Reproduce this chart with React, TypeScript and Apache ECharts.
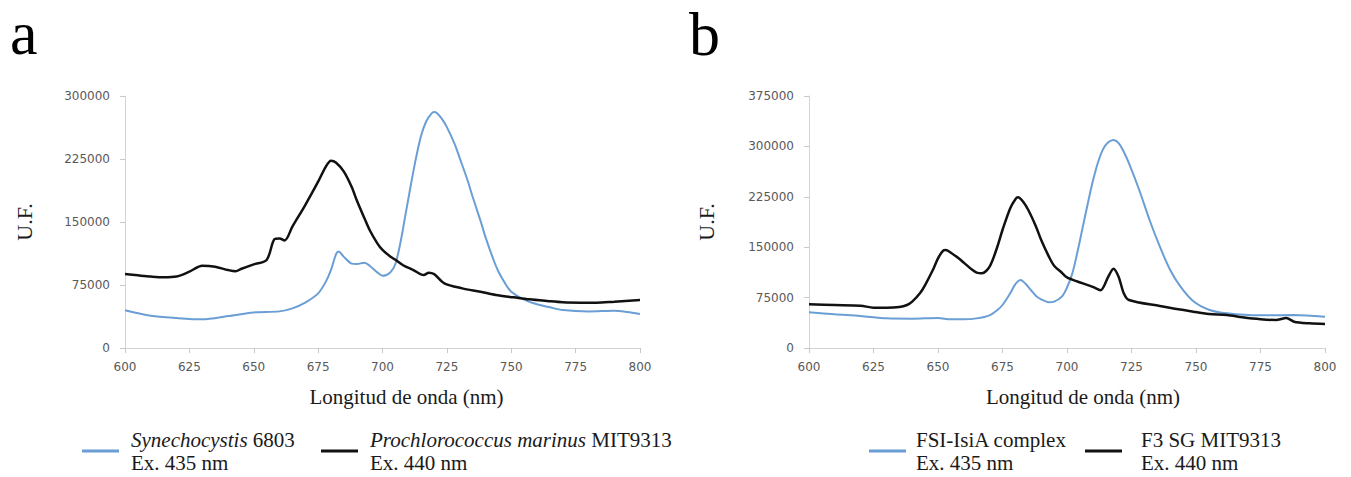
import React, { useEffect, useRef } from "react";
import * as echarts from "echarts";

// ---------- Data ----------
// Panel a — Synechocystis 6803 (Ex. 435 nm)
const synWl = [600, 610, 620, 630, 640, 650, 660, 665, 670, 675, 678, 680, 682, 683, 685, 688, 690, 693, 695, 698, 700, 703, 705, 707, 709, 711, 713, 715, 717, 719, 720, 721, 723, 725, 728, 730, 733, 735, 738, 740, 743, 745, 748, 750, 755, 760, 765, 770, 780, 790, 795, 800];
const synVal = [45000, 38500, 35700, 34100, 38000, 42400, 43600, 47200, 54000, 65000, 79000, 93000, 112000, 115000, 108500, 100500, 100000, 101500, 98000, 90000, 86000, 90000, 100000, 126000, 160000, 194000, 226000, 253000, 270000, 279000, 281000, 280000, 273000, 263000, 243000, 226000, 200000, 180000, 152000, 132000, 106000, 91000, 75000, 67000, 57500, 52000, 48400, 45200, 43600, 44400, 42900, 40500];

// Panel a — Prochlorococcus marinus MIT9313 (Ex. 440 nm)
const proWl = [600, 605, 610, 615, 620, 625, 630, 635, 640, 643, 645, 650, 655, 658, 660, 662, 665, 670, 675, 678, 680, 682, 685, 688, 690, 693, 695, 698, 700, 703, 705, 708, 712, 716, 718, 720, 724, 731, 738, 744, 751, 757, 764, 770, 777, 783, 790, 800];
const proVal = [88100, 86500, 85000, 84100, 85000, 90900, 98000, 96800, 92800, 91300, 94000, 99600, 104800, 129400, 130500, 128000, 144500, 170200, 198000, 216000, 223000, 220600, 210000, 192000, 176000, 154400, 140500, 124600, 116700, 109000, 105000, 98500, 92800, 86900, 89700, 88000, 77000, 71000, 67000, 63100, 60300, 57900, 55900, 54400, 54000, 54000, 55200, 57100];

// Panel b — FSI-IsiA complex (Ex. 435 nm)
const fsiWl = [600, 610, 620, 630, 640, 650, 655, 660, 665, 670, 673, 675, 678, 680, 682, 684, 686, 688, 690, 693, 695, 698, 700, 702, 704, 706, 708, 710, 712, 714, 716, 718, 720, 722, 724, 728, 732, 736, 740, 744, 749, 755, 762, 775, 788, 800];
const fsiVal = [53100, 50100, 47600, 44100, 43600, 44600, 42700, 42700, 44100, 48600, 56500, 64000, 81400, 95200, 101200, 95200, 86300, 77400, 72400, 68000, 68900, 76400, 90000, 110000, 142000, 178000, 214000, 248000, 276000, 296000, 306000, 309500, 305000, 292000, 275000, 235100, 190500, 150700, 116100, 91300, 69500, 57000, 51600, 48600, 49100, 46600];

// Panel b — F3 SG MIT9313 (Ex. 440 nm)
const f3Wl = [600, 610, 620, 625, 630, 635, 638, 640, 643, 645, 648, 650, 652, 653, 655, 658, 660, 663, 665, 667, 670, 673, 675, 678, 680, 681, 683, 685, 688, 690, 693, 695, 698, 700, 704, 710, 713, 716, 718, 720, 722, 724, 736, 749, 755, 762, 768, 775, 781, 785, 788, 794, 800];
const f3Val = [65000, 64000, 63000, 60000, 60000, 61000, 64000, 69000, 81400, 93700, 116000, 133500, 144800, 145800, 141800, 133500, 127000, 117100, 112100, 111100, 121000, 150700, 175600, 207900, 221300, 224200, 217700, 205300, 180500, 160700, 135900, 122500, 112000, 105000, 99000, 91000, 86000, 106100, 118000, 106100, 81400, 71400, 62500, 54000, 50600, 49100, 45600, 42700, 41700, 44600, 39200, 36700, 35700];

const xTicks = { min: 600, max: 800, interval: 25 };
const yMaxA = 300000;
const yMaxB = 375000;
const yInterval = 75000;

const seriesNames = [
  "Synechocystis 6803",
  "Prochlorococcus marinus MIT9313",
  "FSI-IsiA complex",
  "F3 SG MIT9313",
];
const legendLines: Record<string, string> = {
  "Synechocystis 6803": "{i|Synechocystis}{r| 6803}\n{r|Ex. 435 nm}",
  "Prochlorococcus marinus MIT9313": "{i|Prochlorococcus marinus}{r| MIT9313}\n{r|Ex. 440 nm}",
  "FSI-IsiA complex": "{r|FSI-IsiA complex}\n{r|Ex. 435 nm}",
  "F3 SG MIT9313": "{r|F3 SG MIT9313}\n{r|Ex. 440 nm}",
};

const BLUE = "#6a9ed4";
const BLACK = "#111111";
const SERIF = '"Liberation Serif", "Times New Roman", serif';
const SANS = '"DejaVu Sans", sans-serif';

const zip = (xs: number[], ys: number[]) => xs.map((x, i) => [x, ys[i]]);

function xAxis(gridIndex: number, shift: number) {
  return {
    type: "value",
    gridIndex,
    min: xTicks.min,
    max: xTicks.max,
    interval: xTicks.interval,
    name: "Longitud de onda (nm)",
    nameLocation: "middle",
    nameGap: 38,
    nameTextStyle: { fontFamily: SERIF, fontSize: 21, color: "#1a1a1a", padding: [0, 0, 0, shift * 2] },
    axisLine: { show: true, lineStyle: { color: "#d3d3d3", width: 1 } },
    axisTick: { show: true, length: 5, lineStyle: { color: "#c8c8c8" } },
    axisLabel: { fontFamily: SANS, fontSize: 12, color: "#595959", margin: 13 },
    splitLine: { show: false },
  };
}

function yAxis(gridIndex: number, max: number, gap: number) {
  return {
    type: "value",
    gridIndex,
    min: 0,
    max,
    interval: yInterval,
    name: "U.F.",
    nameLocation: "middle",
    nameGap: gap,
    nameRotate: 90,
    nameTextStyle: { fontFamily: SERIF, fontSize: 22, color: "#1a1a1a" },
    axisLine: { show: true, lineStyle: { color: "#d3d3d3", width: 1 } },
    axisTick: { show: true, length: 5, lineStyle: { color: "#c8c8c8" } },
    axisLabel: {
      fontFamily: SANS,
      fontSize: 12,
      color: "#595959",
      margin: 15,
      formatter: (v: number) => String(v),
    },
    splitLine: { show: false },
  };
}

function legend(name: string, left: number, textPad: number) {
  return {
    data: [name],
    left,
    top: 428,
    padding: 0,
    icon: "rect",
    itemWidth: 37,
    itemHeight: 3,
    selectedMode: false,
    formatter: (n: string) => legendLines[n] || n,
    textStyle: {
      fontFamily: SERIF,
      fontSize: 21,
      lineHeight: 23,
      color: "#1a1a1a",
      padding: [0, 0, 0, textPad],
      rich: {
        i: { fontFamily: SERIF, fontSize: 21, lineHeight: 23, fontStyle: "italic", color: "#1a1a1a" },
        r: { fontFamily: SERIF, fontSize: 21, lineHeight: 23, color: "#1a1a1a" },
      },
    },
  };
}

function lineSeries(name: string, xi: number, data: number[][], color: string, width: number) {
  return {
    type: "line",
    name,
    xAxisIndex: xi,
    yAxisIndex: xi,
    data,
    color,
    showSymbol: false,
    symbol: "none",
    smooth: 0.3,
    lineStyle: { color, width },
    emphasis: { disabled: true },
  };
}

export default function App() {
  const ref = useRef<HTMLDivElement>(null);
  useEffect(() => {
    if (!ref.current) return;
    const chart = echarts.init(ref.current, null, { renderer: "svg" });
    chart.setOption({
      animation: false,
      backgroundColor: "#ffffff",
      grid: [
        { left: 125, top: 96, width: 515, height: 252 },
        { left: 809, top: 96, width: 516, height: 252 },
      ],
      xAxis: [xAxis(0, 24), xAxis(1, 16)],
      yAxis: [yAxis(0, yMaxA, 90), yAxis(1, yMaxB, 92)],
      legend: [
        legend(seriesNames[0], 82, 7),
        legend(seriesNames[1], 321, 7),
        legend(seriesNames[2], 869, 5),
        legend(seriesNames[3], 1085, 14),
      ],
      graphic: [
        { type: "text", x: 10, y: 33, style: { text: "a", font: `62px ${SERIF}`, fill: "#000", verticalAlign: "middle" } },
        { type: "text", x: 689, y: 34, style: { text: "b", font: `62px ${SERIF}`, fill: "#000", verticalAlign: "middle" } },
      ],
      series: [
        lineSeries(seriesNames[0], 0, zip(synWl, synVal), BLUE, 2),
        lineSeries(seriesNames[1], 0, zip(proWl, proVal), BLACK, 2.5),
        lineSeries(seriesNames[2], 1, zip(fsiWl, fsiVal), BLUE, 2),
        lineSeries(seriesNames[3], 1, zip(f3Wl, f3Val), BLACK, 2.5),
      ],
    });
    return () => chart.dispose();
  }, []);
  return (
    <div
      ref={ref}
      style={{ position: "absolute", left: 0, top: 0, width: 1351, height: 477, background: "#fff" }}
    />
  );
}
